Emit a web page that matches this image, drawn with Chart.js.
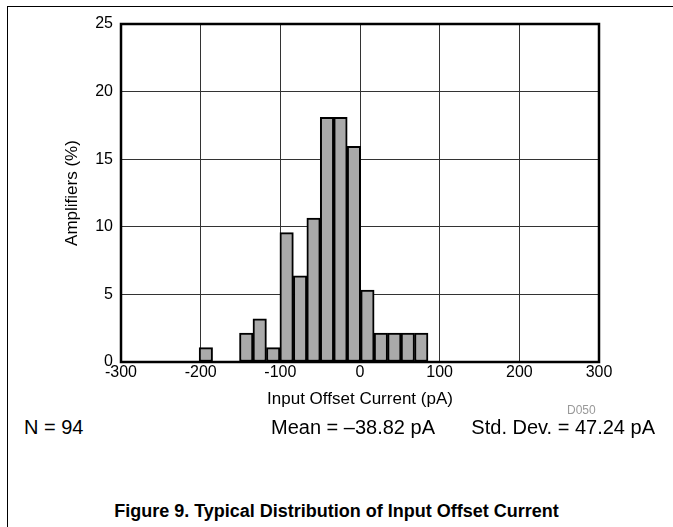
<!DOCTYPE html>
<html lang="en">
<head>
  <meta charset="UTF-8">
  <title>Typical Distribution of Input Offset Current</title>
  <script src="https://cdn.jsdelivr.net/npm/chart.js"></script>
  <style>
    html, body {
      margin: 0;
      padding: 0;
      background: #fff;
      font-family: "Liberation Sans", Arial, sans-serif;
    }
    .page {
      position: relative;
      width: 673px;
      height: 527px;
      overflow: hidden;
    }
    .rule-top {
      position: absolute;
      left: 7px; top: 6px;
      width: 666px; height: 0;
      border-top: 1.5px solid #000;
    }
    .rule-left {
      position: absolute;
      left: 7px; top: 6px;
      width: 0; height: 521px;
      border-left: 1.5px solid #000;
    }
    #wrap {
      position: absolute;
      left: 0; top: 0;
      width: 673px; height: 412px;
    }
    .txt {
      position: absolute;
      white-space: nowrap;
      color: #000;
      line-height: 1;
    }
    .stats { top: 417px; font-size: 20px; }
    #code { left: 567px; top: 404px; font-size: 12px; color: #999; }
    #caption { left: 0; width: 673px; text-align: center; top: 502px; font-size: 18px; font-weight: bold; }
  </style>
</head>
<body>
  <div class="page">
    <div class="rule-top"></div>
    <div class="rule-left"></div>
    <div id="wrap"><canvas id="histChart" width="673" height="412"></canvas></div>
    <div class="txt" id="code">D050</div>
    <div class="txt stats" style="left:24px">N = 94</div>
    <div class="txt stats" style="left:271px">Mean = &ndash;38.82 pA</div>
    <div class="txt stats" style="right:18px">Std. Dev. = 47.24 pA</div>
    <div class="txt" id="caption">Figure 9. Typical Distribution of Input Offset Current</div>
  </div>
  <script>
    // bin centres (pA) and share of amplifiers (%)
    const binCenters = [-193.5, -176.6, -159.7, -142.8, -125.9, -109.0, -92.1, -75.2,
                        -58.3, -41.4, -24.5, -7.6, 9.3, 26.2, 43.1, 60.0, 76.9];
    const percents = [1.06, 0, 0, 2.13, 3.19, 1.06, 9.57, 6.38,
                      10.64, 18.09, 18.09, 15.96, 5.32, 2.13, 2.13, 2.13, 2.13];
    const xTicks = [-300, -200, -100, 0, 100, 200, 300];
    const yTicks = [0, 5, 10, 15, 20, 25];

    const FONT = '"Liberation Sans", Arial, sans-serif';

    // thick frame round the plot area
    const frame = {
      id: 'frame',
      afterDatasetsDraw(chart) {
        const a = chart.chartArea, c = chart.ctx;
        c.save();
        c.strokeStyle = '#000';
        c.lineWidth = 2.5;
        c.strokeRect(a.left, a.top, a.right - a.left, a.bottom - a.top);
        c.restore();
      }
    };

    new Chart(document.getElementById('histChart'), {
      type: 'bar',
      data: {
        datasets: [{
          data: binCenters.map((x, i) => ({ x: x, y: percents[i] })),
          backgroundColor: '#aaaaaa',
          borderColor: '#000',
          borderWidth: 2,
          borderSkipped: false,
          barPercentage: 1,
          categoryPercentage: 1
        }]
      },
      options: {
        responsive: false,
        animation: false,
        layout: { padding: { left: 60, top: 24, right: 74, bottom: 0 } },
        plugins: { legend: { display: false }, tooltip: { enabled: false } },
        scales: {
          x: {
            type: 'linear',
            offset: false,
            min: xTicks[0], max: xTicks[xTicks.length - 1],
            afterBuildTicks: s => { s.ticks = xTicks.map(v => ({ value: v })); },
            afterFit: s => { s.height = 50; },
            grid: { color: '#333', lineWidth: 1, drawTicks: false, offset: false },
            border: { display: false },
            ticks: { color: '#000', padding: 1, font: { family: FONT, size: 16 }, maxRotation: 0 },
            title: { display: true, text: 'Input Offset Current (pA)', color: '#000',
                     font: { family: FONT, size: 17 }, padding: { top: 0, bottom: 2 } }
          },
          y: {
            min: 0, max: 25,
            afterBuildTicks: s => { s.ticks = yTicks.map(v => ({ value: v })); },
            afterFit: s => { s.width = 61; },
            grid: { color: '#333', lineWidth: 1, drawTicks: false },
            border: { display: false },
            ticks: { color: '#000', padding: 8, font: { family: FONT, size: 16 } },
            title: { display: true, text: 'Amplifiers (%)', color: '#000',
                     font: { family: FONT, size: 17 }, padding: { top: 2, bottom: 0 } }
          }
        }
      },
      plugins: [frame]
    });
  </script>
</body>
</html>
